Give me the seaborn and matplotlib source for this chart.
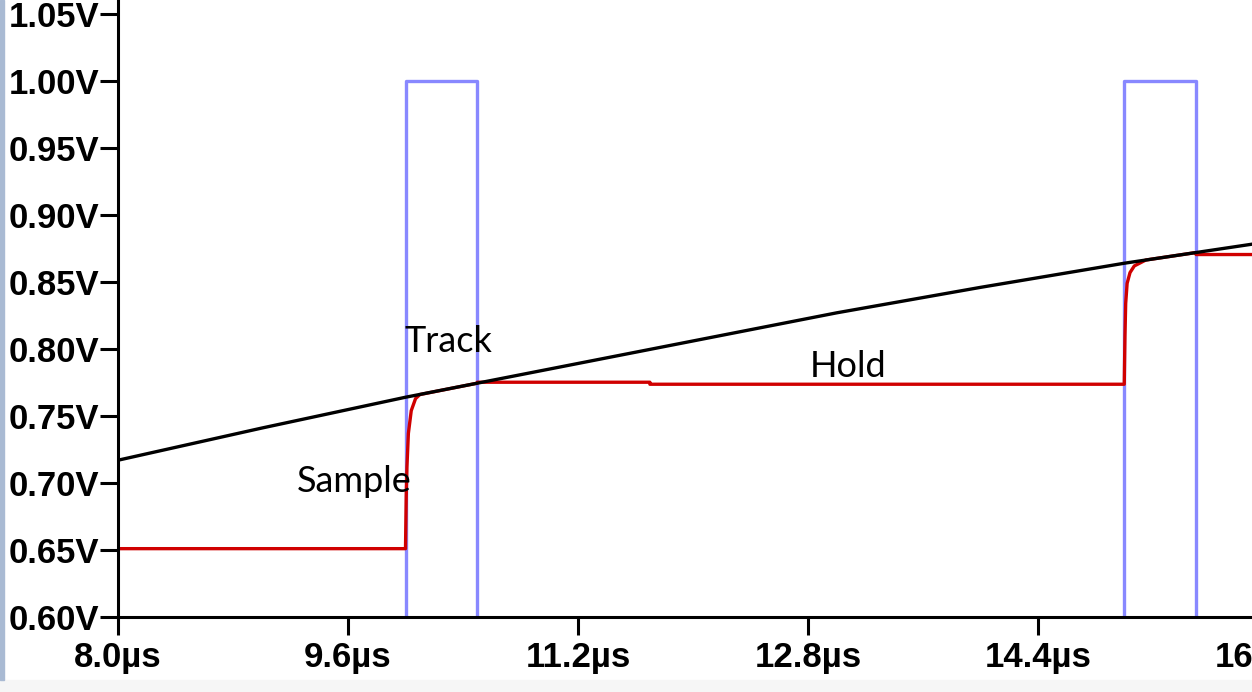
import numpy as np
import pandas as pd
import seaborn as sns
from matplotlib import pyplot as plt
from matplotlib.patches import Rectangle

# sample clock (square pulses), time in us, volts
t_clk = [8.0, 10.0, 10.0, 10.5, 10.5, 15.0, 15.0, 15.5, 15.5, 16.0]
v_clk = [0.0, 0.0, 1.0, 1.0, 0.0, 0.0, 1.0, 1.0, 0.0, 0.0]

# input signal (black)
t_in = [8.0, 9.0, 10.0, 10.5, 11.0, 12.0, 13.0, 14.0, 15.0, 15.5, 16.0]
v_in = [0.717, 0.741, 0.764, 0.7745, 0.785, 0.806, 0.827, 0.846, 0.864, 0.872, 0.880]

# sample/hold output (red)
t_out = [8.0, 10.0, 10.005, 10.01, 10.02, 10.04, 10.07, 10.1, 10.5, 10.5, 11.7, 11.7,
         15.0, 15.005, 15.01, 15.02, 15.04, 15.07, 15.15, 15.5, 15.5, 16.0]
v_out = [0.651, 0.651, 0.690, 0.712, 0.737, 0.754, 0.763, 0.766, 0.7745, 0.7752, 0.7752, 0.7737,
         0.7737, 0.810, 0.834, 0.849, 0.857, 0.862, 0.8664, 0.872, 0.8705, 0.8705]

x_ticks = [8.0, 9.6, 11.2, 12.8, 14.4, 16.0]
x_labels = ["8.0µs", "9.6µs", "11.2µs", "12.8µs", "14.4µs", "16.0µs"]
y_ticks = [0.60, 0.65, 0.70, 0.75, 0.80, 0.85, 0.90, 0.95, 1.00, 1.05]
y_labels = ["0.60V", "0.65V", "0.70V", "0.75V", "0.80V", "0.85V", "0.90V", "0.95V", "1.00V", "1.05V"]

notes = ["Sample", "Track", "Hold"]
note_t = [9.246, 9.993, 12.81]
note_v = [0.6935, 0.7978, 0.779]

sns.set_theme(style="ticks")
plt.rcParams['font.family'] = ['Liberation Sans', 'DejaVu Sans']

W, H = 1252, 692
fig = plt.figure(figsize=(W / 100, H / 100), dpi=100)
# axes runs past the right edge so the 16.0us label is cut like the screenshot
ax = fig.add_axes([118 / W, 75 / H, 1150 / W, 617 / H])

sns.lineplot(data=pd.DataFrame({'t': t_clk, 'v': v_clk}), x='t', y='v', ax=ax,
             color='#8888FF', lw=2.4, estimator=None, sort=False)
sns.lineplot(data=pd.DataFrame({'t': t_out, 'v': v_out}), x='t', y='v', ax=ax,
             color='#D00000', lw=2.4, estimator=None, sort=False)
sns.lineplot(data=pd.DataFrame({'t': t_in, 'v': v_in}), x='t', y='v', ax=ax,
             color='black', lw=2.4, estimator=None, sort=False)

ax.set_xlim(8.0, 16.0)
ax.set_ylim(0.60, 0.60 + 617 / 1340)
ax.set_xlabel('')
ax.set_ylabel('')

ax.set_xticks(x_ticks)
ax.set_xticklabels(x_labels, fontweight='bold')
ax.set_yticks(y_ticks)
ax.set_yticklabels(y_labels, fontweight='bold')
ax.tick_params(axis='both', direction='out', length=13, width=2.2, color='black',
               labelsize=25, labelcolor='black')
ax.tick_params(axis='x', pad=4)
ax.tick_params(axis='y', pad=0.5)

for s in ['top', 'right']:
    ax.spines[s].set_visible(False)
for s in ['left', 'bottom']:
    ax.spines[s].set_linewidth(2.2)
    ax.spines[s].set_color('black')

for txt, tx, ty in zip(notes, note_t, note_v):
    ax.text(tx, ty, txt, fontsize=26, family=['Lato', 'DejaVu Sans'],
            ha='left', va='baseline', color='black')

# window border bits from the screenshot
fig.patches.append(Rectangle((0, 0), 1, 12 / H, transform=fig.transFigure,
                             color='#F6F6F6', zorder=-1))
fig.patches.append(Rectangle((0, 12 / H), 4 / W, 1 - 12 / H, transform=fig.transFigure,
                             color='#A9BAD3', zorder=-1))

fig.savefig('out.png', dpi=100)
